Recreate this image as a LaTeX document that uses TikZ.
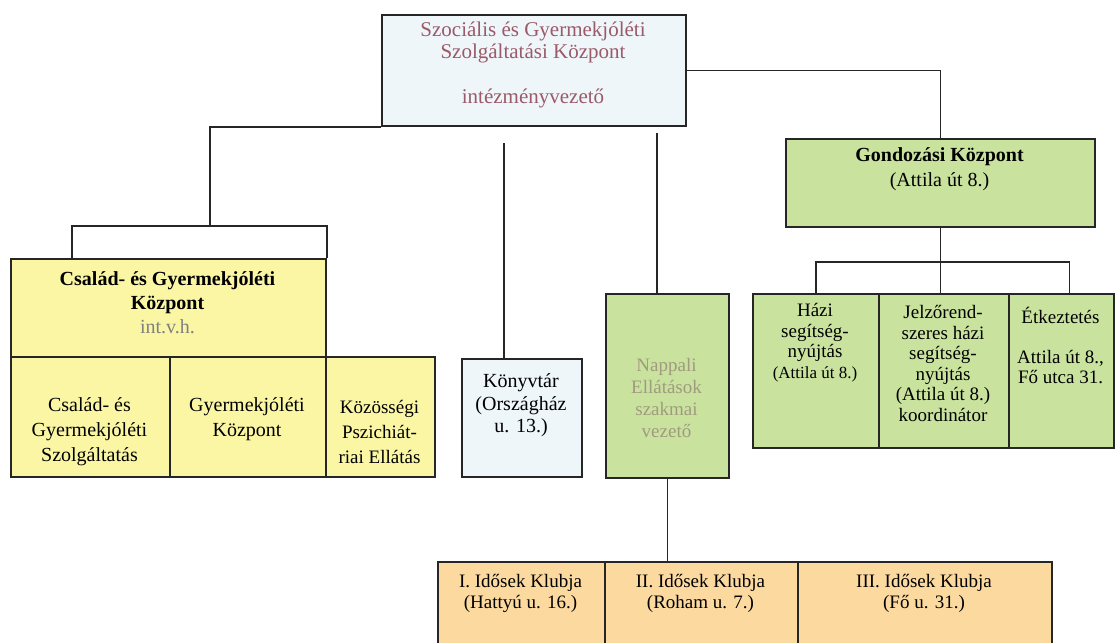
\documentclass[tikz,border=0pt]{standalone}
\usepackage{fontspec}
\setmainfont{Liberation Serif}
\definecolor{kekhatter}{HTML}{EEF6FA}
\definecolor{sarga}{HTML}{FBF6A4}
\definecolor{zold}{HTML}{C9E39F}
\definecolor{narancs}{HTML}{FBD99F}
\definecolor{bordo}{HTML}{9A5A68}
\definecolor{halvany}{HTML}{A09A7E}
\definecolor{vonal}{HTML}{262626}
\begin{document}
\begin{tikzpicture}[x=1pt,y=-1pt,
    doboz/.style={draw=vonal,line width=2pt,inner sep=0pt,anchor=north west},
    felirat/.style={align=center,inner sep=0pt},
    osszekoto/.style={draw=vonal,line width=1.8pt}]
  \useasboundingbox[fill=white] (0,0) rectangle (1118,642);
  \node[doboz,fill=kekhatter,minimum width=304pt,minimum height=111pt] (fo) at (381,14) {};
  \node[doboz,fill=sarga,minimum width=315pt,minimum height=98pt] (cgk) at (10,258) {};
  \node[doboz,fill=sarga,minimum width=159pt,minimum height=120pt] (cgsz) at (10,356) {};
  \node[doboz,fill=sarga,minimum width=156pt,minimum height=120pt] (gyk) at (169,356) {};
  \node[doboz,fill=sarga,minimum width=109pt,minimum height=120pt] (kpe) at (325,356) {};
  \node[doboz,fill=kekhatter,minimum width=120pt,minimum height=118pt] (konyv) at (461,358) {};
  \node[doboz,fill=zold,minimum width=123pt,minimum height=184pt] (nappali) at (605,293) {};
  \node[doboz,fill=zold,minimum width=309pt,minimum height=88pt] (gond) at (785,138) {};
  \node[doboz,fill=zold,minimum width=126pt,minimum height=154pt] (hazi) at (752,293) {};
  \node[doboz,fill=zold,minimum width=130pt,minimum height=154pt] (jelzo) at (878,293) {};
  \node[doboz,fill=zold,minimum width=105pt,minimum height=154pt] (etk) at (1008,293) {};
  \node[doboz,fill=narancs,minimum width=167pt,minimum height=86pt] (klub1) at (437,561) {};
  \node[doboz,fill=narancs,minimum width=193pt,minimum height=86pt] (klub2) at (604,561) {};
  \node[doboz,fill=narancs,minimum width=254pt,minimum height=86pt] (klub3) at (797,561) {};

  \node[felirat,text=bordo,font=\fontsize{21}{22.5}\selectfont] (foT) at (533,65)
    {Szociális és Gyermekjóléti\\Szolgáltatási Központ\\[22.5pt]intézményvezető};
  \node[felirat,font=\fontsize{20}{24}\selectfont] (cgkT) at (167.5,302.5)
    {\textbf{Család- és Gyermekjóléti}\\\textbf{Központ}\\\textcolor{gray}{int.v.h.}};
  \node[felirat,font=\fontsize{20}{25}\selectfont] (cgszT) at (89.5,432)
    {Család- és\\Gyermekjóléti\\Szolgáltatás};
  \node[felirat,font=\fontsize{20}{25}\selectfont] (gykT) at (247,419.5)
    {Gyermekjóléti\\Központ};
  \node[felirat,font=\fontsize{19}{25}\selectfont] (kpeT) at (379.5,432)
    {Közösségi\\Pszichiát-\\riai Ellátás};
  \node[felirat,font=\fontsize{20}{22.5}\selectfont] (konyvT) at (521,405.5)
    {Könyvtár\\(Országház\\u. 13.)};
  \node[felirat,text=halvany,font=\fontsize{19}{22}\selectfont] (nappaliT) at (666.5,398)
    {Nappali\\Ellátások\\szakmai\\vezető};
  \node[felirat,font=\fontsize{20}{25}\selectfont] (gondT) at (939.5,169.5)
    {\textbf{Gondozási Központ}\\(Attila út 8.)};
  \node[felirat,font=\fontsize{19}{20.6}\selectfont] (haziT) at (815,342.5)
    {Házi\\segítség-\\nyújtás\\{\fontsize{17}{20.6}\selectfont(Attila út 8.)}};
  \node[felirat,font=\fontsize{19}{20.6}\selectfont] (jelzoT) at (943,363.5)
    {Jelzőrend-\\szeres házi\\segítség-\\nyújtás\\(Attila út 8.)\\koordinátor};
  \node[felirat,font=\fontsize{19}{20}\selectfont] (etkT) at (1060.5,345)
    {Étkeztetés\\[20pt]Attila út 8.,\\Fő utca 31.};
  \node[felirat,font=\fontsize{19}{21}\selectfont] (klub1T) at (520.5,593)
    {I. Idősek Klubja\\(Hattyú u. 16.)};
  \node[felirat,font=\fontsize{19}{21}\selectfont] (klub2T) at (700.5,593)
    {II. Idősek Klubja\\(Roham u. 7.)};
  \node[felirat,font=\fontsize{19}{21}\selectfont] (klub3T) at (924,593)
    {III. Idősek Klubja\\(Fő u. 31.)};

  \coordinate (bal) at (210,226);
  \coordinate (kvszabad) at (504,143);
  \coordinate (nszabad) at (657,133);
  \begin{scope}[osszekoto]
    \draw (fo.south west) -| (bal);
    \draw ([xshift=62pt]cgk.north west) |- (bal) -| (cgk.north east);
    \draw (kvszabad) -- (kvszabad |- konyv.north);
    \draw (nszabad) -- (nszabad |- nappali.north);
    \draw (fo.east) -| (gond.north);
    \draw (gond.south) -- ++(0,34) coordinate (jobb);
    \draw (hazi.north) |- (jobb) -| ([xshift=8pt]etk.north);
    \draw (jobb) -- (jobb |- jelzo.north);
    \draw (nappali.south) -- (nappali.south |- klub2.north);
  \end{scope}
\end{tikzpicture}
\end{document}
